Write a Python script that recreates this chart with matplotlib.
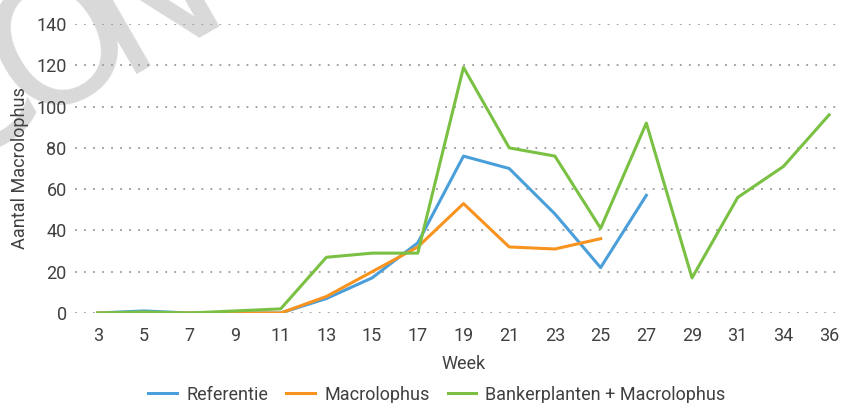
import matplotlib.pyplot as plt
import numpy as np

# Data
weken = ['3', '5', '7', '9', '11', '13', '15', '17', '19', '21', '23', '25', '27', '29', '31', '34', '36']
referentie = [0, 1, 0, 0, 0, 7, 17, 34, 76, 70, 48, 22, 57, None, None, None, None]
macrolophus = [0, 0, 0, 0, 0, 8, 20, 32, 53, 32, 31, 36, None, None, None, None, None]
bankerplanten = [0, 0.5, 0, 1, 2, 27, 29, 29, 119, 80, 76, 41, 92, 17, 56, 71, 96]

plt.rcParams['font.family'] = ['Roboto', 'DejaVu Sans']

W, H = 841, 403
fig = plt.figure(figsize=(W / 100, H / 100), dpi=100)
ax = fig.add_axes([75 / W, 1 - 313 / H, 777 / W, 289 / H])

# watermark letters (light grey, behind the chart)
for letter, (px, py) in zip('CON', [(-28, 100), (62, 48), (152, 0)]):
    fig.text(px / W, 1 - py / H, letter, fontsize=125, color='#d9d9d9', rotation=30,
             ha='center', va='center', zorder=-5, family='DejaVu Sans')

x = np.arange(len(weken))


def to_arr(v):
    return np.array([np.nan if a is None else a for a in v], dtype=float)


ax.plot(x, to_arr(referentie), color='#4A9FDB', lw=2.2, label='Referentie')
ax.plot(x, to_arr(macrolophus), color='#F7931E', lw=2.2, label='Macrolophus')
ax.plot(x, to_arr(bankerplanten), color='#7AC143', lw=2.2, label='Bankerplanten + Macrolophus')

ax.set_xlim(-0.5, len(weken) - 0.5)
ax.set_ylim(0, 140)
ax.set_yticks(range(0, 141, 20))
ax.set_xticks(x)
ax.set_xticklabels(weken)
ax.grid(axis='y', linestyle=(0, (1, 4)), color='#9a9a9a', lw=1.3)
ax.set_axisbelow(True)
for s in ax.spines.values():
    s.set_visible(False)
ax.tick_params(length=0, labelsize=13, colors='#404040')
ax.tick_params(axis='y', pad=6)
ax.tick_params(axis='x', pad=10)
ax.patch.set_alpha(0)

ax.set_xlabel('Week', fontsize=13, color='#404040', labelpad=7)
ax.set_ylabel('Aantal Macrolophus', fontsize=13, color='#404040')
ax.yaxis.set_label_coords(-(75 - 20) / 777, 0.5)
ax.yaxis.label.set_va('center')

fig.legend(loc='center', bbox_to_anchor=(437 / W, 1 - 394.5 / H), ncol=3, frameon=False,
           fontsize=13, handlelength=1.6, columnspacing=1.0, handletextpad=0.5,
           labelcolor='#404040')

fig.savefig('out.png', dpi=100)
